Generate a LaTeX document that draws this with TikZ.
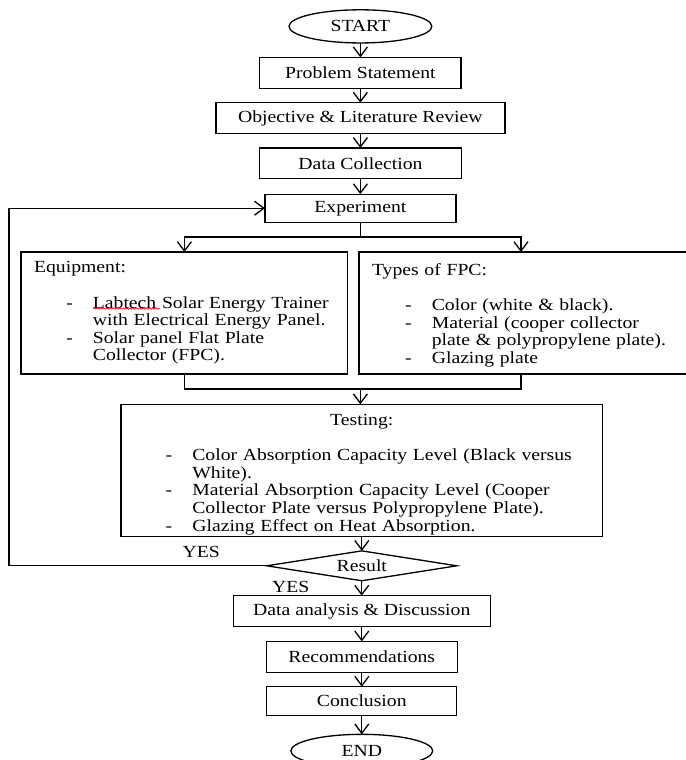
\documentclass[tikz,border=0pt]{standalone}
\usepackage{fontspec}
\setmainfont{Liberation Serif}[FakeStretch=1.16]
\usetikzlibrary{shapes.geometric,arrows.meta,decorations.pathmorphing}
\newcommand{\fcfont}{\fontsize{10.35}{10.7}\selectfont\lineskiplimit=-20pt\relax}
\newcommand{\fcdash}[1][0.69cm]{\hspace*{#1}\makebox[0.57cm][l]{-}}
\newcommand{\fcgap}[1][0.69cm]{\hspace*{#1}\hspace*{0.57cm}}

\begin{document}
\begin{tikzpicture}[auto, font=\fcfont, line width=0.8pt, outer sep=0pt,
    >={Straight Barb[length=2mm,width=3mm]},
    stepbox/.style={draw, rectangle, anchor=north, minimum height=0.66cm, inner sep=2pt},
    termnode/.style={draw, ellipse, minimum width=3.06cm, minimum height=0.71cm, inner sep=0pt},
    listbox/.style={draw, rectangle, align=left, minimum height=2.61cm, inner xsep=0.28cm, inner ysep=0pt}]
    \useasboundingbox (0,0) rectangle (14.69,-16.28);
        \node[termnode] (start) at (7.72,-0.565) {START};
        \node[stepbox, minimum width=4.31cm] (problem) at ([yshift=-0.31cm]start.south) {Problem Statement};
        \node[stepbox, minimum width=6.19cm] (objective) at ([yshift=-0.31cm]problem.south) {Objective \& Literature Review};
        \node[stepbox, minimum width=4.33cm] (datacol) at ([yshift=-0.31cm]objective.south) {Data Collection};
        \node[stepbox, minimum width=4.09cm, minimum height=0.60cm] (experiment) at ([yshift=-0.33cm]datacol.south) {Experiment};
        \coordinate (split) at ([yshift=-0.32cm]experiment.south);
        \coordinate (splitr) at ([xshift=3.44cm]split);
        \node[listbox, anchor=north, text width=6.44cm] (equipment) at ([xshift=-3.77cm, yshift=-0.64cm]experiment.south) {%
            Equipment:\\[10.7pt]
            \fcdash Labtech Solar Energy Trainer\\
            \fcgap with Electrical Energy Panel.\\
            \fcdash Solar panel Flat Plate\\
            \fcgap Collector (FPC).};
        \node[listbox, anchor=north west, text width=6.64cm] (types) at ([xshift=-0.03cm, yshift=-0.64cm]experiment.south) {%
            \rule{0pt}{10pt}Types of FPC:\\[10.7pt]
            \fcdash[0.71cm]Color (white \& black).\\
            \fcdash[0.71cm]Material (cooper collector\\
            \fcgap[0.71cm]plate \& polypropylene plate).\\
            \fcdash[0.71cm]Glazing plate};
        \coordinate (merge) at ([yshift=-0.32cm]equipment.south -| experiment.south);
        \node[listbox, anchor=north, text width=10.0cm, minimum height=2.83cm, inner xsep=0.16cm] (testing) at ([xshift=0.03cm, yshift=-0.33cm]merge) {%
            \makebox[10cm]{\rule{0pt}{12pt}Testing:}\\[10.7pt]
            \fcdash[0.80cm]Color Absorption Capacity Level (Black versus\\
            \fcgap[0.80cm]White).\\
            \fcdash[0.80cm]Material Absorption Capacity Level (Cooper\\
            \fcgap[0.80cm]Collector Plate versus Polypropylene Plate).\\
            \fcdash[0.80cm]Glazing Effect on Heat Absorption.};
        \node[draw, diamond, aspect=6.4, minimum width=4.07cm, minimum height=0.64cm, inner sep=0pt, anchor=north] (result) at ([yshift=-0.31cm]testing.south) {Result};
        \node[stepbox, minimum width=5.50cm] (analysis) at ([yshift=-0.32cm]result.south) {Data analysis \& Discussion};
        \node[stepbox, minimum width=4.09cm] (recom) at ([yshift=-0.32cm]analysis.south) {Recommendations};
        \node[stepbox, minimum width=4.07cm, minimum height=0.62cm] (conclusion) at ([yshift=-0.31cm]recom.south) {Conclusion};
        \node[termnode, minimum width=3.04cm, anchor=north] (end) at ([yshift=-0.40cm]conclusion.south) {END};
        \coordinate (loop) at (0.19,0);
        \node (yesloop) at (4.31,-11.82) {YES};
        \node (yesdown) at (6.23,-12.57) {YES};
        % spell-check squiggle under Labtech
        \draw[red, line width=0.4pt, decorate, decoration={snake, amplitude=0.4pt, segment length=2pt}]
            ([xshift=1.54cm, yshift=-1.21cm]equipment.north west) -- ([xshift=2.98cm, yshift=-1.21cm]equipment.north west);
        \draw[->] (start) -- (problem);
        \draw[->] (problem) -- (objective);
        \draw[->] (objective) -- (datacol);
        \draw[->] (datacol) -- (experiment);
        \draw (experiment) -- (split);
        \draw[->] (split) -| (equipment.north);
        \draw[->] (split) -- (splitr) -- (splitr |- types.north);
        \draw (equipment.south) |- (merge);
        \draw (splitr |- types.south) |- (merge);
        \draw[->] (merge) -- (merge |- testing.north);
        \draw[->] (testing.south -| result.north) -- (result);
        \draw[->] (result) -- (analysis);
        \draw[->] (analysis) -- (recom);
        \draw[->] (recom) -- (conclusion);
        \draw[->] (conclusion) -- (end);
        \draw[->] (result.west) -- (result.west -| loop) -- (loop |- experiment.west) -- (experiment.west);
    \end{tikzpicture}
\end{document}
